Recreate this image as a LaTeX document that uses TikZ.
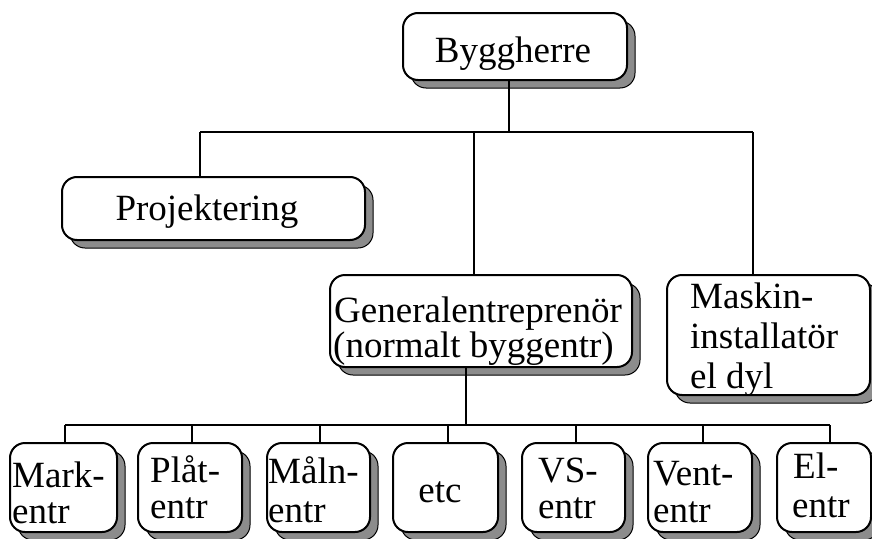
\documentclass[tikz,border=0pt]{standalone}
\usepackage{fontspec}
\setmainfont{Liberation Serif}
\usetikzlibrary{shadows}
\begin{document}
\begin{tikzpicture}[x=1pt,y=-1pt,
  box/.style={draw=black, line width=2pt, fill=white, rounded corners=15pt, inner sep=0pt,
    drop shadow={shadow xshift=8pt, shadow yshift=-8pt, opacity=1, fill=black!45, draw=black, line width=1pt}},
  txt/.style={font=\fontsize{37}{40}\selectfont, inner sep=0pt, anchor=base west},
  conn/.style={draw=black, line width=1.8pt}]
\useasboundingbox (0,0) rectangle (872,538);
% boxes
\node[box, minimum width=224pt, minimum height=67pt] (bh) at (515,46.5) {};
\node[box, minimum width=303pt, minimum height=63pt] (proj) at (213.5,208.5) {};
\node[box, minimum width=302pt, minimum height=92pt] (gen) at (481,321) {};
\node[box, minimum width=203pt, minimum height=120pt] (mask) at (768.5,335) {};
\node[box, minimum width=107pt, minimum height=89pt] (mark) at (63.5,487.5) {};
\node[box, minimum width=104pt, minimum height=89pt] (plat) at (190,487.5) {};
\node[box, minimum width=103pt, minimum height=89pt] (maln) at (318.5,487.5) {};
\node[box, minimum width=105pt, minimum height=89pt] (etc) at (445.5,487.5) {};
\node[box, minimum width=103pt, minimum height=89pt] (vs) at (573.5,487.5) {};
\node[box, minimum width=104pt, minimum height=89pt] (vent) at (700,487.5) {};
\node[box, minimum width=94pt, minimum height=89pt] (el) at (824,487.5) {};
% texts
\node[txt, anchor=base] (tbh) at (513,62) {Byggherre};
\node[txt, anchor=base] (tproj) at (207,220) {Projektering};
\node[txt] (tgen1) at (334,322) {Generalentreprenör};
\node[txt] (tgen2) at (333,357) {(normalt byggentr)};
\node[txt] (tmask1) at (690,308) {Maskin-};
\node[txt] (tmask2) at (690,348) {installatör};
\node[txt] (tmask3) at (690,388) {el dyl};
\node[txt] (tmark1) at (12,487) {Mark-};
\node[txt] (tmark2) at (12,523) {entr};
\node[txt] (tplat1) at (150,482) {Plåt-};
\node[txt] (tplat2) at (150,518) {entr};
\node[txt] (tmaln1) at (268,483) {Måln-};
\node[txt] (tmaln2) at (268,522) {entr};
\node[txt, anchor=base] (tetc) at (440,502) {etc};
\node[txt] (tvs1) at (538,482) {VS-};
\node[txt] (tvs2) at (538,518) {entr};
\node[txt] (tvent1) at (653,485) {Vent-};
\node[txt] (tvent2) at (653,522) {entr};
\node[txt] (tel1) at (793,478) {El-};
\node[txt] (tel2) at (792,517) {entr};
% top connectors
\coordinate (t0) at (509,132);
\coordinate (tp) at (200,132);
\coordinate (tg) at (474,132);
\coordinate (tm) at (753,132);
\draw[conn] (bh.south -| t0) -- (t0);
\draw[conn] (tp) -- (tm);
\draw[conn] (tp) -- (tp |- proj.north);
\draw[conn] (tg) -- (tg |- gen.north);
\draw[conn] (tm) -- (tm |- mask.north);
% bottom connectors
\coordinate (b0) at (466,425);
\coordinate (b1) at (65,425);
\coordinate (b2) at (192,425);
\coordinate (b3) at (320,425);
\coordinate (b4) at (448,425);
\coordinate (b5) at (576,425);
\coordinate (b6) at (703,425);
\coordinate (b7) at (830,425);
\draw[conn] (gen.south -| b0) -- (b0);
\draw[conn] (b1) -- (b7);
\draw[conn] (b1) -- (b1 |- mark.north);
\draw[conn] (b2) -- (b2 |- plat.north);
\draw[conn] (b3) -- (b3 |- maln.north);
\draw[conn] (b4) -- (b4 |- etc.north);
\draw[conn] (b5) -- (b5 |- vs.north);
\draw[conn] (b6) -- (b6 |- vent.north);
\draw[conn] (b7) -- (b7 |- el.north);
\end{tikzpicture}
\end{document}
